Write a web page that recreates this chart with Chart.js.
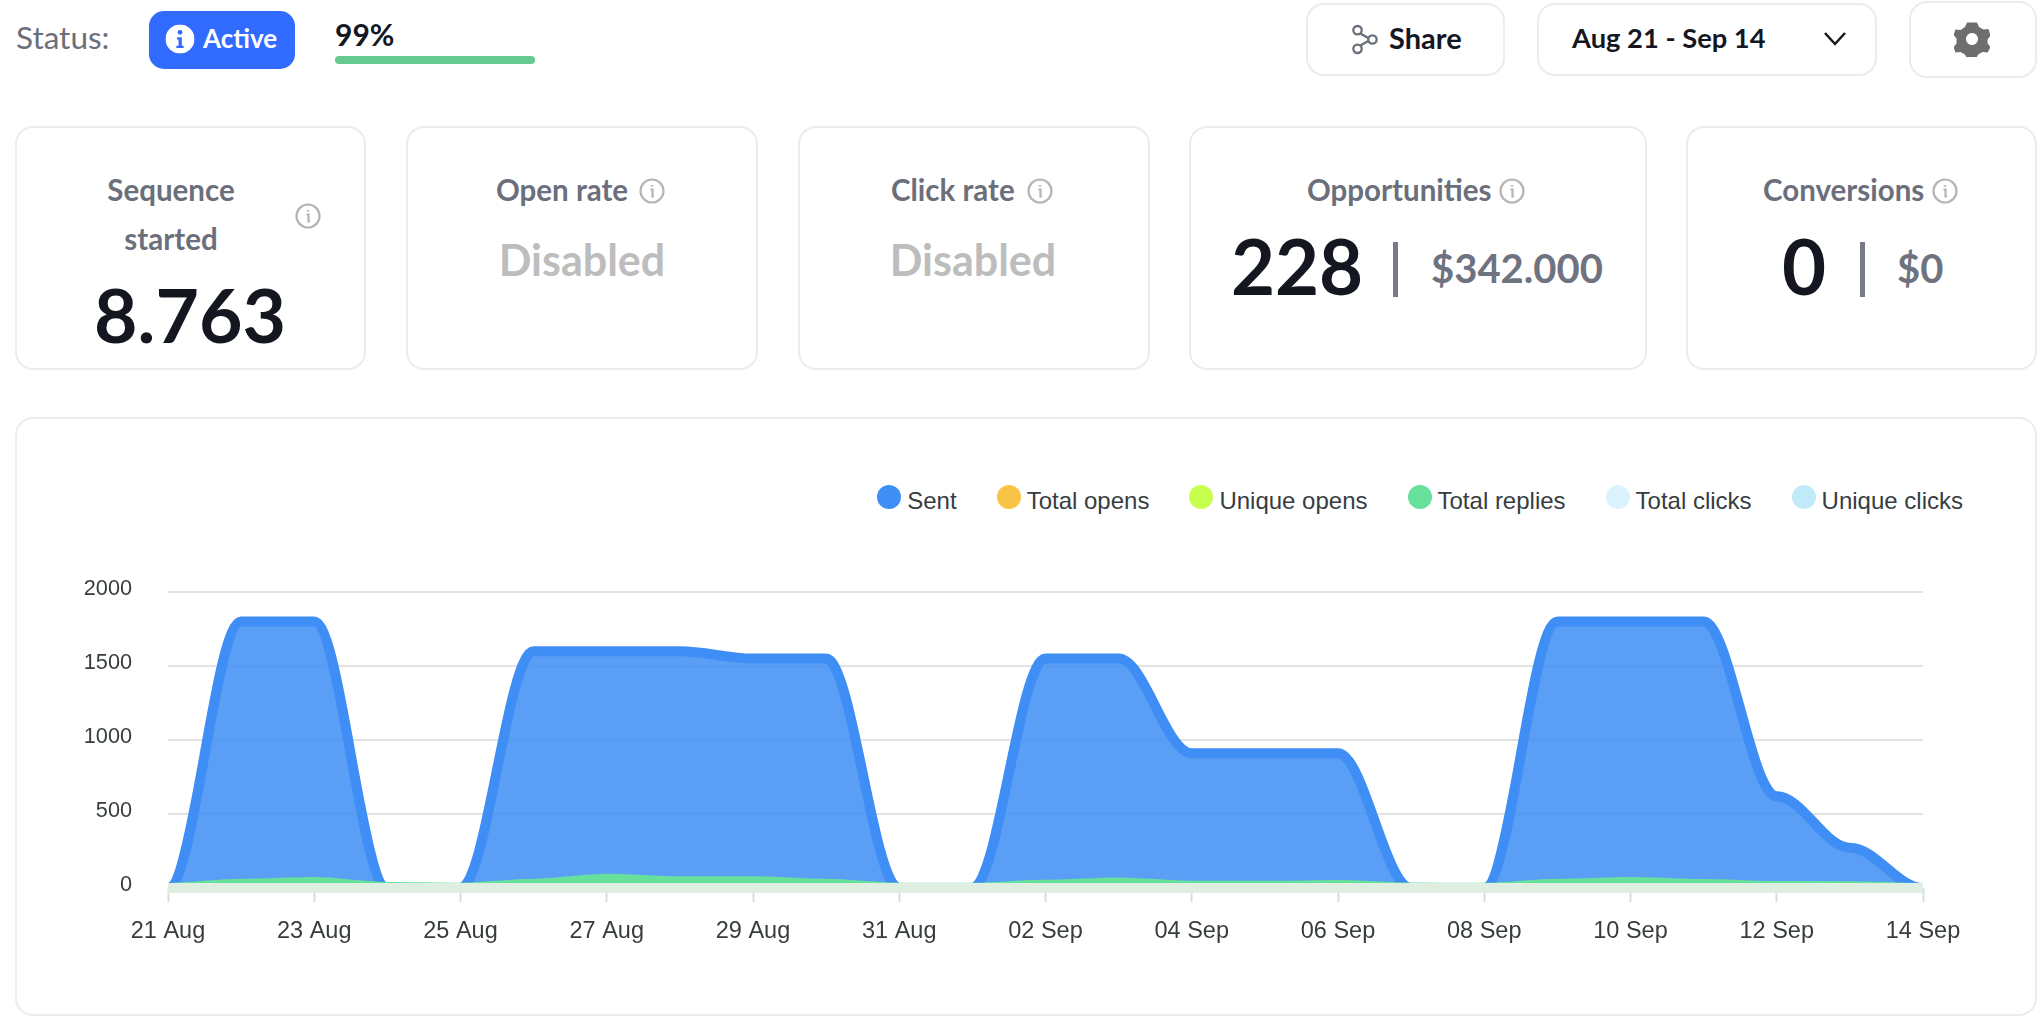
<!DOCTYPE html>
<html>
<head>
<meta charset="utf-8">
<title>Sequence stats</title>
<script src="https://cdn.jsdelivr.net/npm/chart.js@4"></script>
<style>
  html, body { margin: 0; padding: 0; background: #fff; width: 2044px; height: 1026px; overflow: hidden; }
  body { font-family: Lato, "Noto Sans", sans-serif; position: relative; color: #14171f; }
  .box { position: absolute; box-sizing: border-box; border: 2px solid #ecebf1; border-radius: 18px; background: #fff; }
  .t { position: absolute; white-space: nowrap; line-height: 1; transform: translateY(-50%); }
  .c { transform: translate(-50%, -50%); }
  .title { font-size: 29.5px; font-weight: 700; color: #6b6f7b; }
  .big { font-size: 76px; font-weight: 700; color: #14171f; }
  .off { font-size: 43px; font-weight: 700; color: #bdbdbd; }
  .money { font-size: 40px; font-weight: 700; color: #6f7380; }
  .btn { font-size: 27.3px; font-weight: 700; color: #14171f; }
  .sep { position: absolute; width: 5px; top: 242px; height: 55px; background: #777b88; }
  .info { position: absolute; width: 28px; height: 28px; transform: translate(-50%, -50%); }
  #chartBox { position: absolute; left: 16px; top: 540px; width: 2020px; height: 460px; }
  #legend { position: absolute; right: 81px; top: 483px; height: 28px; display: flex; align-items: center; gap: 40px; font: 24px "Liberation Sans", Arial, sans-serif; color: #373d3f; }
  #legend div { display: flex; align-items: center; gap: 6px; }
  #legend i { width: 24px; height: 24px; border-radius: 50%; display: block; }
  #legend span { position: relative; top: 4px; }
</style>
</head>
<body>
  <div class="t" style="left:16px;top:38px;font-size:31.5px;color:#6b6f7b">Status:</div>
  <div style="position:absolute;left:149px;top:11px;width:146px;height:58px;border-radius:15px;background:#316bff"></div>
  <svg class="info" style="left:180px;top:39px;width:29px;height:29px" viewBox="0 0 24 24"><circle cx="12" cy="12" r="12" fill="#fff"/><circle cx="12" cy="6.5" r="2" fill="#316bff"/><path d="M9.5 10.5h4v7h1.500v2h-6v-2h1.800v-5H9.500z" fill="#316bff"/></svg>
  <div class="t" style="left:203px;top:38px;font-size:26px;font-weight:700;color:#fff">Active</div>
  <div class="t" style="left:335px;top:34px;font-size:30px;font-weight:700">99%</div>
  <div style="position:absolute;left:335px;top:56px;width:200px;height:8px;border-radius:4px;background:#66c98f"></div>

  <div class="box" style="left:1306px;top:3px;width:199px;height:73px"></div>
  <svg style="position:absolute;left:1351px;top:24px" width="28" height="31" viewBox="0 0 30 32" fill="none" stroke="#6b6f7b" stroke-width="2.500"><circle cx="7" cy="6" r="4.500"/><circle cx="23" cy="16" r="4.500"/><circle cx="7" cy="26" r="4.500"/><path d="M10 9.500l8.500 5M10 22.500l8.500-5"/></svg>
  <div class="t" style="left:1389px;top:37px;font-size:29px;font-weight:700">Share</div>
  <div class="box" style="left:1537px;top:3px;width:340px;height:73px"></div>
  <div class="t btn" style="left:1572px;top:38px">Aug 21 - Sep 14</div>
  <svg style="position:absolute;left:1823px;top:31px" width="24" height="15" viewBox="0 0 24 15" fill="none" stroke="#14171f" stroke-width="2.500"><path d="M2 2l10 11L22 2"/></svg>
  <div class="box" style="left:1909px;top:1px;width:128px;height:77px"></div>
  <svg style="position:absolute;left:1954px;top:21px" width="36" height="36" viewBox="0 0 36 36"><path fill="#6e6e6e" fill-rule="evenodd" d="M13 1.500h10l2 4.500 4.500 2.500 5-.5 2 6.500-3 4 .1 4 3 3.500-3 5.500-5 -.5-4.500 2.500-2 4.500H13l-2-4.500-4.500-2.500-5 .5-2-5.500 3-3.500v-5l-3-3.500 2-5.500 5 .5L11 6zM18 12a6 6 0 1 0 .01 0z"/></svg>

  <div class="box" style="left:15px;top:126px;width:351px;height:244px"></div>
  <div class="t title c" style="left:171px;top:190px">Sequence</div>
  <div class="t title c" style="left:171px;top:239px">started</div>
  <svg class="info" style="left:308px;top:216px" viewBox="0 0 28 28"><use href="#infoIcon"/></svg>
  <div class="t big c" style="left:190px;top:314px;font-size:75px">8.763</div>

  <div class="box" style="left:406px;top:126px;width:352px;height:244px"></div>
  <div class="t title" style="left:496px;top:190px">Open rate</div>
  <svg class="info" style="left:652px;top:191px" viewBox="0 0 28 28"><use href="#infoIcon"/></svg>
  <div class="t off c" style="left:582px;top:259px">Disabled</div>

  <div class="box" style="left:798px;top:126px;width:352px;height:244px"></div>
  <div class="t title" style="left:891px;top:190px">Click rate</div>
  <svg class="info" style="left:1040px;top:191px" viewBox="0 0 28 28"><use href="#infoIcon"/></svg>
  <div class="t off c" style="left:973px;top:259px">Disabled</div>

  <div class="box" style="left:1189px;top:126px;width:458px;height:244px"></div>
  <div class="t title" style="left:1307px;top:190px">Opportunities</div>
  <svg class="info" style="left:1512px;top:191px" viewBox="0 0 28 28"><use href="#infoIcon"/></svg>
  <div class="t big c" style="left:1297px;top:266px">228</div>
  <div class="sep" style="left:1393px"></div>
  <div class="t money" style="left:1431px;top:268px">$342.000</div>

  <div class="box" style="left:1686px;top:126px;width:351px;height:244px"></div>
  <div class="t title" style="left:1763px;top:190px">Conversions</div>
  <svg class="info" style="left:1945px;top:191px" viewBox="0 0 28 28"><use href="#infoIcon"/></svg>
  <div class="t big c" style="left:1804px;top:266px">0</div>
  <div class="sep" style="left:1860px"></div>
  <div class="t money" style="left:1897px;top:268px">$0</div>

  <svg width="0" height="0" style="position:absolute"><defs><g id="infoIcon" fill="none" stroke="#b5b5b5" stroke-width="2.200"><circle cx="14" cy="14" r="11.500"/><path d="M12.500 12.500h2v7h1.500"/><path d="M14 8v1.500" stroke-width="2.600"/></g></defs></svg>

  <div class="box" style="left:15px;top:417px;width:2022px;height:599px"></div>
  <div id="legend"></div>
  <div id="chartBox"><canvas id="statsChart"></canvas></div>

<script>
const dates = ['21 Aug','22 Aug','23 Aug','24 Aug','25 Aug','26 Aug','27 Aug','28 Aug','29 Aug','30 Aug','31 Aug','01 Sep','02 Sep','03 Sep','04 Sep','05 Sep','06 Sep','07 Sep','08 Sep','09 Sep','10 Sep','11 Sep','12 Sep','13 Sep','14 Sep'];
const sent = [0,1800,1800,0,0,1600,1600,1600,1550,1550,0,0,1550,1550,910,910,910,0,0,1800,1800,1800,620,272,0];
const totalOpens = [0,0,0,0,0,0,0,0,0,0,0,0,0,0,0,0,0,0,0,0,0,0,0,0,0];
const uniqueOpens = [0,0,0,0,0,0,0,0,0,0,0,0,0,0,0,0,0,0,0,0,0,0,0,0,0];
const totalReplies = [0,29,40,7,2,29,63,45,45,29,2,2,22,38,16,15,20,3,1,29,40,27,14,12,0];
const totalClicks = [0,0,0,0,0,0,0,0,0,0,0,0,0,0,0,0,0,0,0,0,0,0,0,0,0];
const uniqueClicks = [0,0,0,0,0,0,0,0,0,0,0,0,0,0,0,0,0,0,0,0,0,0,0,0,0];
const yTicks = [0,500,1000,1500,2000];

const seriesNames = ['Sent','Total opens','Unique opens','Total replies','Total clicks','Unique clicks'];
const seriesData = [sent, totalOpens, uniqueOpens, totalReplies, totalClicks, uniqueClicks];
const legendColors = ['#3f8ef5','#f9c445','#c7ff4d','#66e09b','#dbf3fc','#c1eaf8'];
// the zero series overlap at the bottom and blend to a pale green there
const lineColors = ['#3f8ef5','#f9c445','#c7ff4d','#66e09b','#dbf3fc','#deeee1'];
const fillColors = ['rgba(63,142,245,0.86)','transparent','transparent','#66e09b','transparent','transparent'];

document.getElementById('legend').innerHTML = seriesNames.map((n, i) =>
  `<div><i style="background:${legendColors[i]}"></i><span>${n}</span></div>`).join('');

// flat tangent at every point, so each day joins the next with an S curve
const flatTangents = {
  id: 'flatTangents',
  beforeDatasetsDraw(chart) {
    chart.getSortedVisibleDatasetMetas().forEach(meta => {
      meta.dataset.updateControlPoints(chart.chartArea);
      meta.data.forEach((p, i) => {
        const prev = meta.data[i - 1], next = meta.data[i + 1];
        p.cp1x = prev ? p.x - (p.x - prev.x) * 0.35 : p.x;
        p.cp2x = next ? p.x + (next.x - p.x) * 0.35 : p.x;
        p.cp1y = p.y;
        p.cp2y = p.y;
      });
    });
  }
};

new Chart(document.getElementById('statsChart'), {
  type: 'line',
  plugins: [flatTangents],
  data: {
    labels: dates,
    datasets: seriesNames.map((n, i) => ({
      label: n,
      data: seriesData[i],
      order: seriesNames.length - i,
      borderColor: lineColors[i],
      backgroundColor: fillColors[i],
      borderWidth: 10,
      fill: fillColors[i] !== 'transparent' ? 'origin' : false,
      cubicInterpolationMode: 'monotone',
      pointRadius: 0,
      clip: { left: 0, right: 0, top: 10, bottom: 6 }
    }))
  },
  options: {
    responsive: true,
    maintainAspectRatio: false,
    animation: false,
    layout: { padding: { left: 0, right: 113, top: 52, bottom: 0 } },
    plugins: { legend: { display: false }, tooltip: { enabled: false } },
    scales: {
      x: {
        afterFit: s => { s.height = 112; },
        border: { display: false },
        grid: { drawOnChartArea: false, tickColor: '#dcdcdc', tickWidth: 2, tickLength: 14 },
        ticks: { autoSkip: true, maxTicksLimit: 13, maxRotation: 0, padding: 15, color: '#373d3f', font: { family: '"Liberation Sans", Arial, sans-serif', size: 23.5 } }
      },
      y: {
        min: 0,
        max: 2000,
        afterFit: s => { s.width = 152; },
        afterBuildTicks: s => { s.ticks = yTicks.map(v => ({ value: v })); },
        border: { display: false },
        grid: { color: '#e2e2e2', lineWidth: 2, drawTicks: false },
        ticks: { padding: 36, labelOffset: -3, color: '#373d3f', font: { family: '"Liberation Sans", Arial, sans-serif', size: 21.7 }, callback: v => String(v) }
      }
    }
  }
});
</script>
</body>
</html>
